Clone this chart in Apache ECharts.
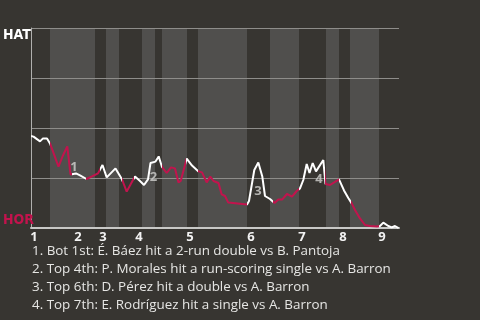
<!DOCTYPE html>
<html><head><meta charset="utf-8">
<script src="https://cdn.jsdelivr.net/npm/echarts@6/dist/echarts.min.js"></script>
<style>html,body{margin:0;padding:0;background:#373531}#c{width:480px;height:320px}</style>
</head><body><div id="c"></div>
<script>
// progress through the game (plays), and HAT win probability (%)
const progress = [0,2.5,9,12,16,19,27.5,31.7,36.3,39.5,41.5,45,49,55.5,61,67,71.5,75.7,84.5,90.5,92,95.7,102.5,104,109,113,117,119.5,124.5,127.7,131,135.7,140,144,147.5,149.7,155.7,161,167.5,171,175.7,179.3,182.5,187.5,190.7,194,197.3,199,216,218,223.3,227.3,231.3,234,239,243.5,247.3,251.3,256,261,265.7,269,272.3,275.7,278.5,281.7,285,286,292.3,294.5,299,308,313,317.3,320.7,324,329,334,339,346,349,352.3,357.3,360.7,364,367.5];
const hatWinPct = [46,45.7,43.3,44.8,44.8,42.3,30.7,36,40.8,26.8,27.3,27.3,26.3,24.5,25.8,27.3,31.5,25.3,29.8,24.8,23,18.2,24.5,25.7,23.5,21.5,24.3,32.5,33.2,35.8,30.5,27.5,30.3,29.8,22.8,23.5,34.7,31.2,28.3,27.8,22.8,25.7,23.5,22.5,16.8,16,12.7,11.8,11.8,13.5,29,32.7,25.7,16,14.5,12.5,14.3,14.3,17,15.7,18.5,19.8,24,32,27.5,32.5,28.3,28,34,22,21.5,24.3,18.8,15,12.3,9,4.8,1.5,1,0.7,1,2.7,1,0.3,1,0];
// colour switches along the line (starts white)
const colourSwitches = [19,41.5,55.5,69,91.5,103.5,131,155.5,167,216.5,242.5,268.5,294.5,308.5,320,348];
// shaded half-innings
const shadedHalves = [[19,64],[75,88],[111,124],[131,156],[167,216],[239,268],[295,308],[319,348]];
// inning tick labels
const inningPos = [3,47,72,108,159,220,271,312,351];
const inningLabels = ['1','2','3','4','5','6','7','8','9'];
// key events
const eventNum = ['1','2','3','4'];
const eventX = [43,122.5,227,288];
const eventY = [30.2,25.2,18.5,24.2];
const notes = [
  '1. Bot 1st: É. Báez hit a 2-run double vs B. Pantoja',
  '2. Top 4th: P. Morales hit a run-scoring single vs A. Barron',
  '3. Top 6th: D. Pérez hit a double vs A. Barron',
  '4. Top 7th: E. Rodríguez hit a single vs A. Barron'
];
const teamTop = 'HAT', teamBottom = 'HOR';

const WHITE = '#ffffff', RED = '#c2134d';
const FONT = 'Open Sans';
const COND = '"DejaVu Sans Condensed", "DejaVu Sans", sans-serif';
const XMAX = 368;

const pieces = [];
let prev = 0;
for (let i = 0; i <= colourSwitches.length; i++) {
  const end = i < colourSwitches.length ? colourSwitches[i] : XMAX + 1;
  pieces.push({ gte: prev, lt: end, color: i % 2 === 0 ? WHITE : RED });
  prev = end;
}

const chart = echarts.init(document.getElementById('c'), null, { renderer: 'canvas' });
chart.setOption({
  backgroundColor: '#373531',
  animation: false,
  grid: { left: 31, right: 81, top: 28, bottom: 92 },
  xAxis: {
    type: 'value', min: 0, max: XMAX, z: 3,
    splitLine: { show: false },
    axisTick: { show: false },
    axisLine: { show: true, lineStyle: { color: '#c8c8c6', width: 2 } },
    axisLabel: {
      customValues: inningPos,
      formatter: v => { const i = inningPos.indexOf(v); return i >= 0 ? inningLabels[i] : ''; },
      color: '#f2f2f2', fontFamily: FONT, fontWeight: 'bold', fontSize: 13, margin: 3
    }
  },
  yAxis: {
    type: 'value', min: 0, max: 100, interval: 25, z: 3,
    splitLine: { show: true, lineStyle: { color: '#8e8d8a', width: 1 } },
    axisTick: { show: false },
    axisLine: { show: true, lineStyle: { color: '#b0b0ae', width: 1 } },
    axisLabel: {
      align: 'left', margin: 28,
      formatter: v => v === 100 ? '{hat|' + teamTop + '}' : (v === 0 ? '{hor|' + teamBottom + '}' : ''),
      rich: {
        hat: { color: '#ffffff', fontFamily: COND, fontWeight: 'bold', fontSize: 14, padding: [14, 0, 0, 0] },
        hor: { color: '#c2134d', fontFamily: COND, fontWeight: 'bold', fontSize: 14, padding: [0, 0, 16, 0] }
      }
    }
  },
  visualMap: { show: false, type: 'piecewise', dimension: 0, seriesIndex: 1, pieces: pieces },
  series: [
    {
      type: 'line', data: [], z: 1, silent: true,
      markArea: {
        silent: true, z: 1,
        itemStyle: { color: '#504f4d' },
        data: shadedHalves.map(h => [{ xAxis: h[0] }, { xAxis: h[1] }])
      }
    },
    {
      type: 'line', z: 5, symbol: 'none', smooth: false,
      lineStyle: { width: 2 },
      data: progress.map((x, i) => [x, hatWinPct[i]])
    },
    {
      type: 'scatter', z: 6, symbolSize: 0,
      data: eventX.map((x, i) => [x, eventY[i], eventNum[i]]),
      label: {
        show: true, position: 'inside', formatter: p => p.data[2],
        color: '#d2d2d0', fontFamily: FONT, fontWeight: 'bold', fontSize: 13
      }
    }
  ],
  graphic: notes.map((t, i) => ({
    type: 'text', left: 32, top: 245 + i * 18,
    style: { text: t, fill: '#e6e6e4', font: '13.4px "' + FONT + '"' }
  }))
});
</script></body></html>
